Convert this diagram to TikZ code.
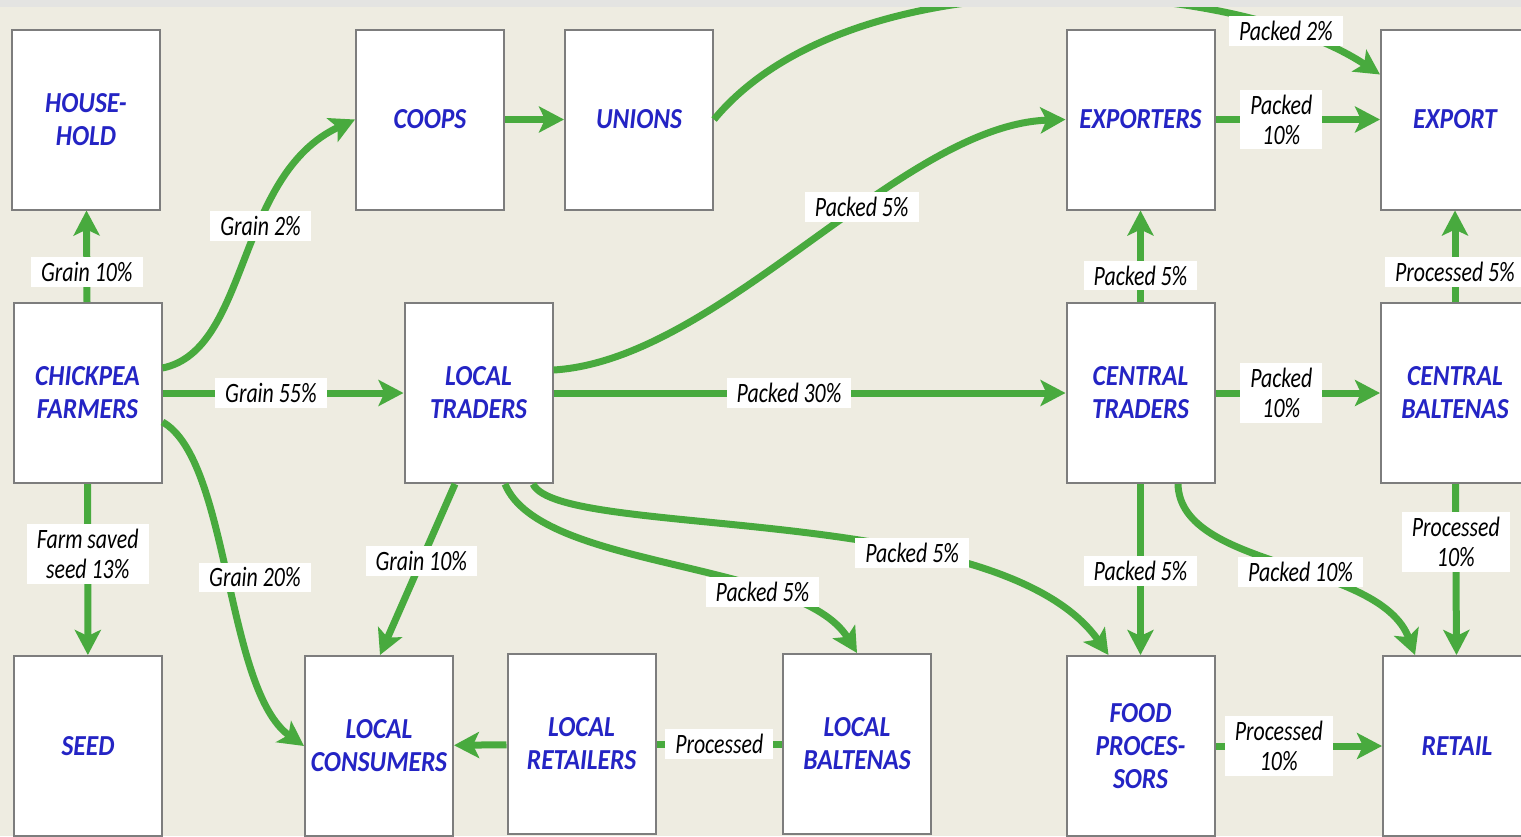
\documentclass[tikz,border=0pt]{standalone}
\usepackage{fontspec}
\usepackage{tikz}
\usetikzlibrary{arrows.meta,calc}
\newfontfamily\boxfont[FakeStretch=0.88]{Carlito}
\newfontfamily\lblfont[FakeStretch=0.78]{Carlito}
\definecolor{tanbg}{RGB}{238,236,225}
\definecolor{topband}{RGB}{228,228,226}
\definecolor{flowgreen}{RGB}{72,170,62}
\definecolor{boxblue}{RGB}{36,36,196}
\definecolor{boxgray}{RGB}{125,125,125}

\begin{document}
\begin{tikzpicture}[x=0.5pt, y=-0.5pt,
  box/.style={rectangle, draw=boxgray, line width=1pt, fill=white, minimum width=74pt, minimum height=90pt, inner sep=0pt, align=center, text=boxblue, font=\boxfont\fontsize{14.5}{16.5}\selectfont\bfseries\itshape},
  lbl/.style={fill=white, inner xsep=5pt, inner ysep=2.5pt, align=center, text=black, font=\lblfont\fontsize{14}{15}\selectfont\itshape},
  flow/.style={draw=flowgreen, line width=3.5pt, -{Stealth[length=12.5pt, width=13pt, inset=3pt]}},
  link/.style={draw=flowgreen, line width=3.5pt}]
  \useasboundingbox (0,0) rectangle (1521,836);
  \clip (0,0) rectangle (1521,836);
  \fill[tanbg] (0,0) rectangle (1521,836);
  % boxes
  \node[box] (household) at (86,119.5) {HOUSE-\\HOLD};
  \node[box] (coops) at (430,119.5) {COOPS};
  \node[box] (unions) at (639,119.5) {UNIONS};
  \node[box] (exporters) at (1140.5,119.5) {EXPORTERS};
  \node[box] (export) at (1455,119.5) {EXPORT};
  \node[box] (farmers) at (87.5,393) {CHICKPEA\\FARMERS};
  \node[box] (traders) at (478.5,393) {LOCAL\\TRADERS};
  \node[box] (ctraders) at (1140.5,393) {CENTRAL\\TRADERS};
  \node[box] (cbaltenas) at (1455,393) {CENTRAL\\BALTENAS};
  \node[box] (seed) at (88,746) {SEED};
  \node[box] (lconsumers) at (379,746) {LOCAL\\CONSUMERS};
  \node[box] (lretailers) at (581.5,744) {LOCAL\\RETAILERS};
  \node[box] (lbaltenas) at (857,744) {LOCAL\\BALTENAS};
  \node[box] (foodproc) at (1140.5,746) {FOOD\\PROCES-\\SORS};
  \node[box] (retail) at (1457,746) {RETAIL};
  % flows
  \draw[flow] (farmers) -- (household) node[lbl, pos=.33] {Grain 10\%};
  \draw[flow] ($(farmers.east)+(0,-25)$) .. controls (250,350) and (235,175) .. (coops.west) node[lbl, pos=.6] {Grain 2\%};
  \draw[flow] (farmers) -- (traders) node[lbl, pos=.45] {Grain 55\%};
  \draw[flow] (farmers) -- (seed) node[lbl, pos=.41] {Farm saved\\seed 13\%};
  \draw[flow] ($(farmers.east)+(0,29)$) .. controls (230,460) and (225,690) .. (lconsumers.west) node[lbl, pos=.5, xshift=13pt] {Grain 20\%};
  \draw[flow] (coops) -- (unions);
  \draw[flow] (unions.east) .. controls (850,-45) and (1230,-25) .. ($(export.west)+(0,-45)$) node[lbl, pos=.83] {Packed 2\%};
  \draw[flow] ($(traders.east)+(0,-23)$) .. controls (720,360) and (900,125) .. (exporters.west) node[lbl, pos=.6] {Packed 5\%};
  \draw[flow] (traders) -- (ctraders) node[lbl, pos=.46] {Packed 30\%};
  \draw[flow] ($(traders.south)+(-23.5,0)$) -- ($(lconsumers.north)+(1,0)$) node[lbl, pos=.45] {Grain 10\%};
  \draw[flow] ($(traders.south)+(26.5,0)$) .. controls (540,570) and (800,560) .. (lbaltenas.north) node[lbl, pos=.7] {Packed 5\%};
  \draw[flow] ($(traders.south)+(54.5,0)$) .. controls (560,540) and (1000,500) .. ($(foodproc.north)+(-32,0)$) node[lbl, pos=.66] {Packed 5\%};
  \draw[flow] (exporters) -- (export) node[lbl, pos=.4] {Packed\\10\%};
  \draw[flow] (ctraders) -- (exporters) node[lbl, pos=.29] {Packed 5\%};
  \draw[flow] (ctraders) -- (cbaltenas) node[lbl, pos=.4] {Packed\\10\%};
  \draw[flow] (ctraders) -- (foodproc) node[lbl, pos=.51] {Packed 5\%};
  \draw[flow] ($(ctraders.south)+(37.5,0)$) .. controls (1180,570) and (1380,560) .. ($(retail.north)+(-42,0)$) node[lbl, pos=.55] {Packed 10\%};
  \draw[flow] (cbaltenas) -- (export) node[lbl, pos=.33] {Processed 5\%};
  \draw[flow] (cbaltenas) -- (retail) node[lbl, pos=.34] {Processed\\10\%};
  \draw[flow] (foodproc) -- (retail) node[lbl, pos=.38] {Processed\\10\%};
  \draw[flow] (lretailers) -- (lconsumers);
  \draw[link] (lbaltenas) -- (lretailers) node[lbl, pos=.5] {Processed};
  \fill[topband] (0,0) rectangle (1521,7);
\end{tikzpicture}
\end{document}
